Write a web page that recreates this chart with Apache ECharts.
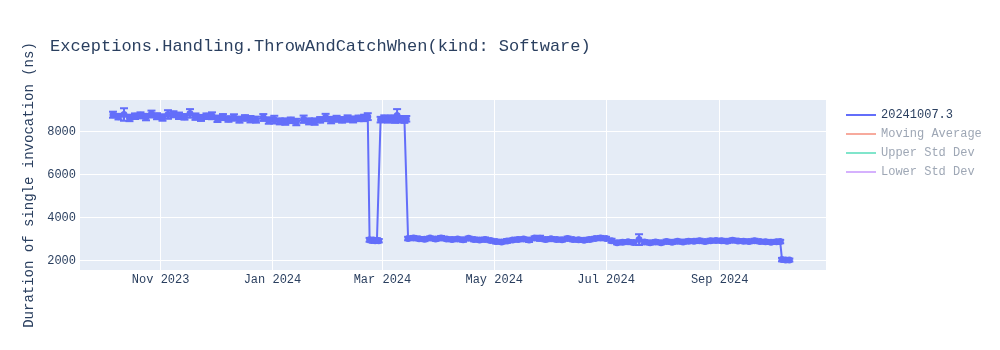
<!DOCTYPE html>
<html><head><meta charset="utf-8">
<script src="https://cdn.jsdelivr.net/npm/echarts@6/dist/echarts.min.js"></script>
<style>html,body{margin:0;padding:0;background:#fff}#c{width:1000px;height:350px}</style>
</head><body><div id="c"></div>
<script>
const dates = [
'2023-10-06','2023-10-09','2023-10-12','2023-10-15','2023-10-18','2023-10-21','2023-10-24','2023-10-27','2023-10-30',
'2023-11-02','2023-11-05','2023-11-08','2023-11-11','2023-11-14','2023-11-17','2023-11-20','2023-11-23','2023-11-26','2023-11-29',
'2023-12-02','2023-12-05','2023-12-08','2023-12-11','2023-12-14','2023-12-17','2023-12-20','2023-12-23','2023-12-27','2023-12-30',
'2024-01-02','2024-01-05','2024-01-08','2024-01-11','2024-01-14','2024-01-18','2024-01-21','2024-01-24','2024-01-27','2024-01-30',
'2024-02-02','2024-02-05','2024-02-08','2024-02-11','2024-02-14','2024-02-17','2024-02-20','2024-02-22',
'2024-02-23','2024-02-24','2024-02-25','2024-02-26','2024-02-27','2024-02-28',
'2024-02-29','2024-03-02','2024-03-04','2024-03-06','2024-03-08','2024-03-09','2024-03-11','2024-03-13','2024-03-14',
'2024-03-15','2024-03-18','2024-03-21','2024-03-24','2024-03-27','2024-03-30',
'2024-04-02','2024-04-05','2024-04-08','2024-04-11','2024-04-14','2024-04-17','2024-04-20','2024-04-23','2024-04-26','2024-04-29',
'2024-05-02','2024-05-05','2024-05-08','2024-05-11','2024-05-14','2024-05-17','2024-05-20','2024-05-23','2024-05-26','2024-05-29',
'2024-06-01','2024-06-04','2024-06-07','2024-06-10','2024-06-13','2024-06-16','2024-06-19','2024-06-22','2024-06-25','2024-06-28',
'2024-07-01','2024-07-04','2024-07-07','2024-07-10','2024-07-13','2024-07-16','2024-07-19','2024-07-22','2024-07-25','2024-07-28','2024-07-31',
'2024-08-03','2024-08-06','2024-08-09','2024-08-12','2024-08-15','2024-08-18','2024-08-21','2024-08-24','2024-08-27','2024-08-30',
'2024-09-02','2024-09-05','2024-09-08','2024-09-11','2024-09-14','2024-09-17','2024-09-20','2024-09-23','2024-09-26','2024-09-29',
'2024-10-02','2024-10-04','2024-10-05','2024-10-07','2024-10-09'
];
const values = [
8790,8700,8800,8640,8720,8760,8680,8820,8720,
8660,8800,8810,8740,8690,8850,8700,8640,8720,8740,
8600,8680,8590,8660,8560,8640,8580,8560,8660,8520,
8560,8480,8470,8530,8450,8580,8480,8470,8550,8660,
8540,8600,8550,8610,8570,8620,8640,8700,
2970,2940,2960,2930,2950,2930,
8560,8620,8570,8630,8550,8750,8580,8550,8600,
3030,3060,3020,3000,3050,3010,
3060,3010,2990,3010,2970,3040,2990,2960,2990,2940,
2890,2870,2920,2960,2990,3010,2960,3050,3040,2990,
3020,2990,2970,3030,2980,2970,2950,2990,3030,3060,
3030,2930,2840,2860,2880,2850,2980,2870,2830,2870,2840,
2890,2860,2900,2870,2910,2900,2930,2890,2930,2940,
2930,2900,2950,2920,2910,2890,2930,2890,2880,2860,
2880,2890,2050,2030,2030
];
const errors = [
140,130,290,150,130,140,150,160,140,
150,200,140,150,130,200,150,140,130,160,
150,140,130,150,140,130,150,140,160,150,
180,140,150,130,150,170,140,150,130,170,
150,140,130,150,140,130,150,160,
90,80,90,80,90,80,
130,140,150,130,140,300,150,140,130,
80,90,80,90,80,90,
90,80,90,80,90,80,90,80,90,80,
90,80,90,80,90,80,90,80,120,90,
80,90,80,90,80,90,80,90,80,90,
80,90,80,90,80,90,250,90,80,90,80,
90,80,90,80,90,80,90,80,90,80,
90,80,90,80,90,80,90,80,90,80,
90,80,80,70,70
];
const xTickDates = ['2023-11-01','2024-01-01','2024-03-01','2024-05-01','2024-07-01','2024-09-01'];
const yTickValues = [2000,4000,6000,8000];
const seriesName = '20241007.3';
const hiddenNames = ['Moving Average','Upper Std Dev','Lower Std Dev'];
const titleText = 'Exceptions.Handling.ThrowAndCatchWhen(kind: Software)';
const yAxisTitle = 'Duration of single invocation (ns)';

const FONT = "'Courier New', 'Liberation Mono', monospace";
const TXT = '#2a3f5f';
const MAIN = '#636efa';
const paleColors = ['#f7aa9d','#80e5cb','#d5b1fd'];
const months = ['Jan','Feb','Mar','Apr','May','Jun','Jul','Aug','Sep','Oct','Nov','Dec'];
const ts = d => new Date(d + 'T00:00:00Z').getTime();

const lineData = dates.map((d,i) => [ts(d), values[i]]);
const errData = dates.map((d,i) => [ts(d), values[i]-errors[i], values[i]+errors[i]]);
const xTicks = xTickDates.map(ts);

const chart = echarts.init(document.getElementById('c'), null, {renderer:'canvas'});
chart.setOption({
  animation:false,
  backgroundColor:'#fff',
  textStyle:{fontFamily:FONT},
  title:{text:titleText,left:45,top:33,textStyle:{fontFamily:FONT,fontSize:17,fontWeight:'normal',color:TXT}},
  legend:{
    orient:'vertical',left:841,top:103,itemWidth:30,itemHeight:2,itemGap:5,icon:'rect',
    textStyle:{fontFamily:FONT,fontSize:12,color:TXT,lineHeight:14},
    data:[{name:seriesName}].concat(hiddenNames.map(n=>({name:n,textStyle:{color:'#9ea7b5'}}))),
    selectedMode:false
  },
  grid:{left:80,right:174,top:100,bottom:80,show:true,backgroundColor:'#e5ecf6',borderWidth:0},
  xAxis:{
    type:'value',min:ts('2023-09-18'),max:ts('2024-10-29'),scale:true,
    axisLine:{show:false},
    axisTick:{show:false,customValues:xTicks},
    axisLabel:{customValues:xTicks,margin:4,fontFamily:FONT,fontSize:12,color:TXT,
      formatter:v=>{const d=new Date(v);return months[d.getUTCMonth()]+' '+d.getUTCFullYear();}},
    splitLine:{show:true,lineStyle:{color:'#fff',width:1}}
  },
  yAxis:{
    type:'value',min:1567,max:9474,
    name:yAxisTitle,nameLocation:'middle',nameGap:38,
    nameTextStyle:{fontFamily:FONT,fontSize:14,color:TXT},
    axisLine:{show:false},
    axisTick:{show:false,customValues:yTickValues},
    axisLabel:{customValues:yTickValues,margin:4,fontFamily:FONT,fontSize:12,color:TXT,formatter:v=>String(v)},
    splitLine:{show:true,lineStyle:{color:'#fff',width:1}}
  },
  series:[
    {
      name:'errbars',type:'custom',z:3,silent:true,
      data:errData,
      renderItem:(params,api)=>{
        const x=api.coord([api.value(0),api.value(1)]);
        const y=api.coord([api.value(0),api.value(2)]);
        const w=4;
        const st={stroke:MAIN,lineWidth:2,fill:null};
        return {type:'group',children:[
          {type:'line',shape:{x1:x[0],y1:x[1],x2:y[0],y2:y[1]},style:st},
          {type:'line',shape:{x1:x[0]-w,y1:x[1],x2:x[0]+w,y2:x[1]},style:st},
          {type:'line',shape:{x1:y[0]-w,y1:y[1],x2:y[0]+w,y2:y[1]},style:st}
        ]};
      }
    },
    {
      name:seriesName,type:'line',z:4,data:lineData,
      color:MAIN,lineStyle:{width:2,color:MAIN},
      symbol:'circle',symbolSize:7,showSymbol:true,showAllSymbol:true,
      itemStyle:{color:MAIN,borderWidth:0}
    }
  ].concat(hiddenNames.map((n,i)=>({name:n,type:'line',data:[],color:paleColors[i],lineStyle:{color:paleColors[i]}})))
});
</script>
</body></html>
